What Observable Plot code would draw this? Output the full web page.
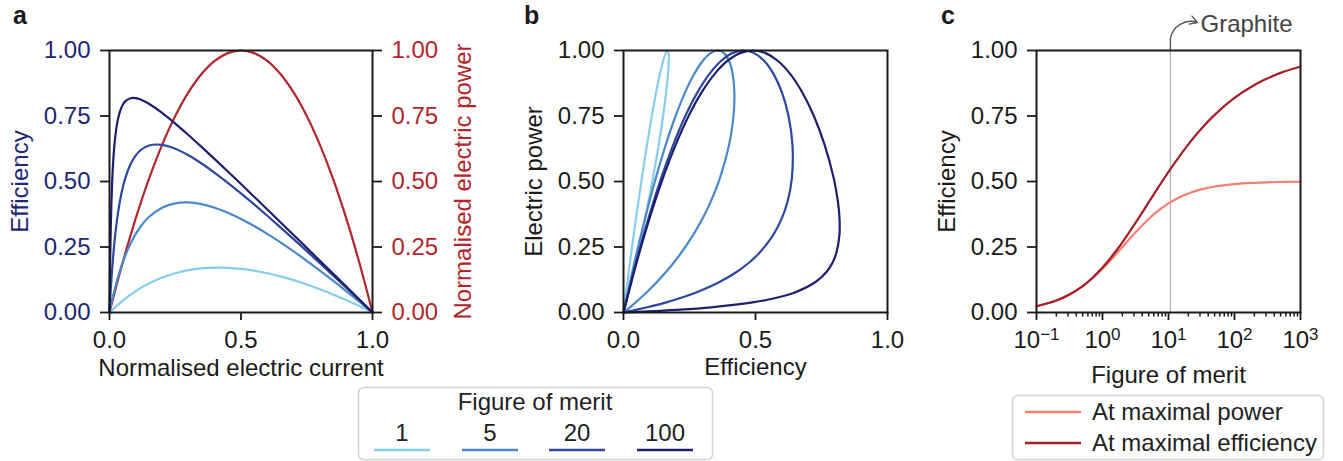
<!DOCTYPE html>
<html><head><meta charset="utf-8">
<script src="https://cdn.jsdelivr.net/npm/d3@7"></script>
<script src="https://cdn.jsdelivr.net/npm/@observablehq/plot@0.6"></script>
<style>
body{margin:0;background:#fff;}
#root{position:relative;width:1343px;height:461px;overflow:hidden;font-family:"Liberation Sans",Arial,Helvetica,sans-serif;color:#222;background:#fff;}
</style></head><body><div id="root"></div>
<script>
// ---------- data ----------
const current = [0, 0.001, 0.0025, 0.005, 0.01, 0.015, 0.02, 0.03, 0.04, 0.05, 0.06, 0.08, 0.1, 0.12, 0.15, 0.2, 0.25, 0.3, 0.35, 0.4, 0.45, 0.5, 0.55, 0.6, 0.65, 0.7, 0.75, 0.8, 0.85, 0.9, 0.95, 1];
const power = [0, 0.004, 0.00998, 0.0199, 0.0396, 0.0591, 0.0784, 0.1164, 0.1536, 0.19, 0.2256, 0.2944, 0.36, 0.4224, 0.51, 0.64, 0.75, 0.84, 0.91, 0.96, 0.99, 1, 0.99, 0.96, 0.91, 0.84, 0.75, 0.64, 0.51, 0.36, 0.19, 0];
const effZ1 = [0, 0.001, 0.0025, 0.00495, 0.0098, 0.01456, 0.01922, 0.02825, 0.03692, 0.04524, 0.05321, 0.06815, 0.08182, 0.09429, 0.11087, 0.13333, 0.15, 0.16154, 0.16852, 0.17143, 0.17069, 0.16667, 0.15968, 0.15, 0.13788, 0.12353, 0.10714, 0.08889, 0.06892, 0.04737, 0.02436, 0];
const effZ5 = [0, 0.00497, 0.01232, 0.02427, 0.04714, 0.06872, 0.08909, 0.12652, 0.16, 0.19, 0.21692, 0.26286, 0.3, 0.33, 0.36429, 0.4, 0.41667, 0.42, 0.41364, 0.4, 0.38077, 0.35714, 0.33, 0.3, 0.26765, 0.23333, 0.19737, 0.16, 0.12143, 0.08182, 0.0413, 0];
const effZ20 = [0, 0.01959, 0.0475, 0.09045, 0.165, 0.22731, 0.28, 0.36375, 0.42667, 0.475, 0.51273, 0.56615, 0.6, 0.62118, 0.6375, 0.64, 0.625, 0.6, 0.56875, 0.53333, 0.495, 0.45455, 0.4125, 0.36923, 0.325, 0.28, 0.23438, 0.18824, 0.14167, 0.09474, 0.0475, 0];
const effZ100 = [0, 0.09082, 0.1995, 0.33167, 0.495, 0.591, 0.65333, 0.7275, 0.768, 0.79167, 0.80571, 0.81778, 0.81818, 0.81231, 0.79688, 0.7619, 0.72115, 0.67742, 0.63194, 0.58537, 0.53804, 0.4902, 0.44196, 0.39344, 0.3447, 0.29577, 0.24671, 0.19753, 0.14826, 0.0989, 0.04948, 0];
const meritLabels = ["1", "5", "20", "100"];
const meritColors = ["#86cdec", "#4c87c8", "#2c47a0", "#1d1f6c"];

const fom = [0.1, 0.2, 0.3, 0.5, 0.7, 1, 1.5, 2, 3, 5, 7, 10, 15, 20, 30, 50, 100, 200, 300, 500, 1000];
const effMaxPower = [0.0238, 0.0455, 0.0652, 0.1, 0.1296, 0.1667, 0.2143, 0.25, 0.3, 0.3571, 0.3889, 0.4167, 0.4412, 0.4545, 0.4688, 0.4808, 0.4902, 0.495, 0.4967, 0.498, 0.499];
const effMaxEff = [0.0238, 0.0456, 0.0655, 0.101, 0.1319, 0.1716, 0.2252, 0.268, 0.3333, 0.4202, 0.4776, 0.5367, 0.6, 0.6418, 0.6955, 0.7543, 0.819, 0.8682, 0.891, 0.9145, 0.9387];
const graphiteFom = 10.7;
const cSeries = ["At maximal power", "At maximal efficiency"];
const cColors = ["#f47f72", "#a51e25"];

const yTicks = [0, 0.25, 0.5, 0.75, 1];
const xTicksLin = [0, 0.5, 1];
const xTicksLog = [0.1, 1, 10, 100, 1000];

// ---------- styling ----------
const navy = "#20266f", red = "#b2262b", ink = "#1a1a1a";
const FONT = '"Liberation Sans", Arial, Helvetica, sans-serif';
const FS = 24;
const style = {background: "transparent", fontFamily: FONT, fontSize: FS + "px", color: ink, overflow: "visible"};
const root = document.getElementById("root");
function place(svg, left) { svg.style.position = "absolute"; svg.style.left = left + "px"; svg.style.top = "0px"; root.appendChild(svg); }

const effSeries = [effZ1, effZ5, effZ20, effZ100];
const curves = meritLabels.flatMap((m, k) => current.map((c, j) => ({merit: m, current: c, power: power[j], eff: effSeries[k][j]})));
const powerRows = current.map((c, j) => ({current: c, power: power[j]}));
const cRows = cSeries.flatMap((s, k) => fom.map((f, j) => ({series: s, fom: f, eff: (k ? effMaxEff : effMaxPower)[j]})));

const yAxisOpts = (anchor, fill) => ({anchor, ticks: yTicks, tickFormat: d3.format(".2f"), tickSize: 9, tickPadding: 10, fontSize: FS, fill, stroke: ink, strokeWidth: 1.8, label: null});
const xAxisLin = () => Plot.axisX({ticks: xTicksLin, tickFormat: d3.format(".1f"), tickSize: 8, tickPadding: 10, fontSize: FS, fill: ink, stroke: ink, strokeWidth: 1.8, label: null});
const ylab = (t, fill, dx, anchor = "left") => Plot.text([t], {frameAnchor: anchor, dx, rotate: -90, textAnchor: "middle", lineAnchor: "middle", text: d => d, fill, fontSize: FS});
const xlab = (t, dy) => Plot.text([t], {frameAnchor: "bottom", dy, textAnchor: "middle", lineAnchor: "middle", text: d => d, fill: ink, fontSize: FS});

// ---------- panel a ----------
const pa = Plot.plot({
  width: 480, height: 390, marginLeft: 109, marginRight: 108, marginTop: 50, marginBottom: 78,
  style,
  x: {domain: [0, 1]}, y: {domain: [0, 1]},
  color: {domain: meritLabels, range: meritColors},
  marks: [
    Plot.line(powerRows, {x: "current", y: "power", stroke: red, strokeWidth: 2.2, curve: "catmull-rom"}),
    Plot.line(curves, {x: "current", y: "eff", z: "merit", stroke: "merit", strokeWidth: 2.2, curve: "catmull-rom"}),
    Plot.frame({stroke: ink, strokeWidth: 2}),
    Plot.axisY(yAxisOpts("left", navy)),
    Plot.axisY(yAxisOpts("right", red)),
    xAxisLin(),
    ylab("Efficiency", navy, -89),
    ylab("Normalised electric power", red, 91, "right"),
    xlab("Normalised electric current", 56)
  ]
});
place(pa, 0);

// ---------- panel b ----------
const pb = Plot.plot({
  width: 450, height: 390, marginLeft: 153, marginRight: 33, marginTop: 50, marginBottom: 78,
  style,
  x: {domain: [0, 1]}, y: {domain: [0, 1]},
  color: {domain: meritLabels, range: meritColors},
  marks: [
    Plot.line(curves, {x: "eff", y: "power", z: "merit", stroke: "merit", strokeWidth: 2.2, curve: "catmull-rom"}),
    Plot.frame({stroke: ink, strokeWidth: 2}),
    Plot.axisY(yAxisOpts("left", ink)),
    xAxisLin(),
    ylab("Electric power", ink, -89),
    xlab("Efficiency", 55)
  ]
});
place(pb, 470);

// ---------- panel c ----------
const minorTicks = [];
for (let e = -1; e < 3; e++) for (let m = 2; m <= 9; m++) minorTicks.push(m * Math.pow(10, e));
const arrowEnd = {x: 27.5, y: 1.107};
const pc = Plot.plot({
  width: 423, height: 390, marginLeft: 116, marginRight: 43, marginTop: 50, marginBottom: 78,
  style,
  x: {type: "log", domain: [0.1, 1000]}, y: {domain: [0, 1]},
  color: {domain: cSeries, range: cColors},
  marks: [
    Plot.ruleX([graphiteFom], {stroke: "#b5b5b5", strokeWidth: 1.3}),
    Plot.ruleX([graphiteFom], {y1: 1, y2: 1.045, stroke: "#555", strokeWidth: 1.4}),
    Plot.arrow([graphiteFom], {x1: d => d, y1: 1.045, x2: arrowEnd.x, y2: arrowEnd.y, bend: 50, stroke: "#555", strokeWidth: 1.4, headLength: 9}),
    Plot.text(["Graphite"], {x: arrowEnd.x, y: arrowEnd.y, dx: 3, dy: 2, textAnchor: "start", lineAnchor: "middle", text: d => d, fill: "#444", fontSize: FS}),
    Plot.line(cRows, {x: "fom", y: "eff", z: "series", stroke: "series", strokeWidth: 2.2, curve: "catmull-rom"}),
    Plot.frame({stroke: ink, strokeWidth: 2}),
    Plot.axisY(yAxisOpts("left", ink)),
    Plot.axisX({ticks: minorTicks, tickFormat: () => "", tickSize: 4.5, stroke: ink, strokeWidth: 1.5, label: null}),
    Plot.axisX({ticks: xTicksLog, tickFormat: d => "10^" + Math.round(Math.log10(d)), tickSize: 8, tickPadding: 10, fontSize: FS, fill: ink, stroke: ink, strokeWidth: 1.8, label: null}),
    ylab("Efficiency", ink, -89.5),
    xlab("Figure of merit", 63)
  ]
});
// superscript exponents
pc.querySelectorAll("text").forEach(t => {
  const s = t.textContent;
  const m = /^10\^(-?\d+)$/.exec(s);
  if (!m) return;
  t.textContent = "10";
  const sup = document.createElementNS("http://www.w3.org/2000/svg", "tspan");
  sup.setAttribute("dy", "-8");
  sup.setAttribute("font-size", "17");
  sup.textContent = m[1].replace("-", "\u2212");
  t.appendChild(sup);
});
place(pc, 920);

// ---------- overlay: panel letters and legends ----------
const ov = d3.create("svg").attr("width", 1343).attr("height", 461)
  .style("position", "absolute").style("left", "0px").style("top", "0px")
  .style("font-family", FONT).style("font-size", FS + "px").style("pointer-events", "none");
ov.selectAll("text.letter").data([["a", 13], ["b", 524], ["c", 941]]).join("text")
  .attr("x", d => d[1]).attr("y", 24).attr("font-weight", "bold").attr("font-size", 25).attr("fill", ink).text(d => d[0]);

// legend 1
ov.append("rect").attr("x", 358.5).attr("y", 387.5).attr("width", 354).attr("height", 72).attr("rx", 5)
  .attr("fill", "#fff").attr("stroke", "#d2d2d2").attr("stroke-width", 1.5);
ov.append("text").attr("x", 535).attr("y", 402).attr("dy", "0.35em").attr("text-anchor", "middle").attr("fill", "#222").text("Figure of merit");
const l1x = [402, 490, 577, 665];
meritLabels.forEach((m, k) => {
  ov.append("text").attr("x", l1x[k]).attr("y", 433).attr("dy", "0.35em").attr("text-anchor", "middle").attr("fill", "#222").text(m);
  ov.append("line").attr("x1", l1x[k] - 28).attr("x2", l1x[k] + 28).attr("y1", 450).attr("y2", 450).attr("stroke", meritColors[k]).attr("stroke-width", 2.5);
});
// legend 2
ov.append("rect").attr("x", 1012.5).attr("y", 395.5).attr("width", 311).attr("height", 64).attr("rx", 5)
  .attr("fill", "#fff").attr("stroke", "#d2d2d2").attr("stroke-width", 1.5);
cSeries.forEach((s, k) => {
  const y = k ? 443 : 412;
  ov.append("line").attr("x1", 1025).attr("x2", 1081).attr("y1", y).attr("y2", y).attr("stroke", cColors[k]).attr("stroke-width", 2.5);
  ov.append("text").attr("x", 1092).attr("y", y).attr("dy", "0.35em").attr("fill", "#222").text(s);
});
root.appendChild(ov.node());
</script>
</body></html>
